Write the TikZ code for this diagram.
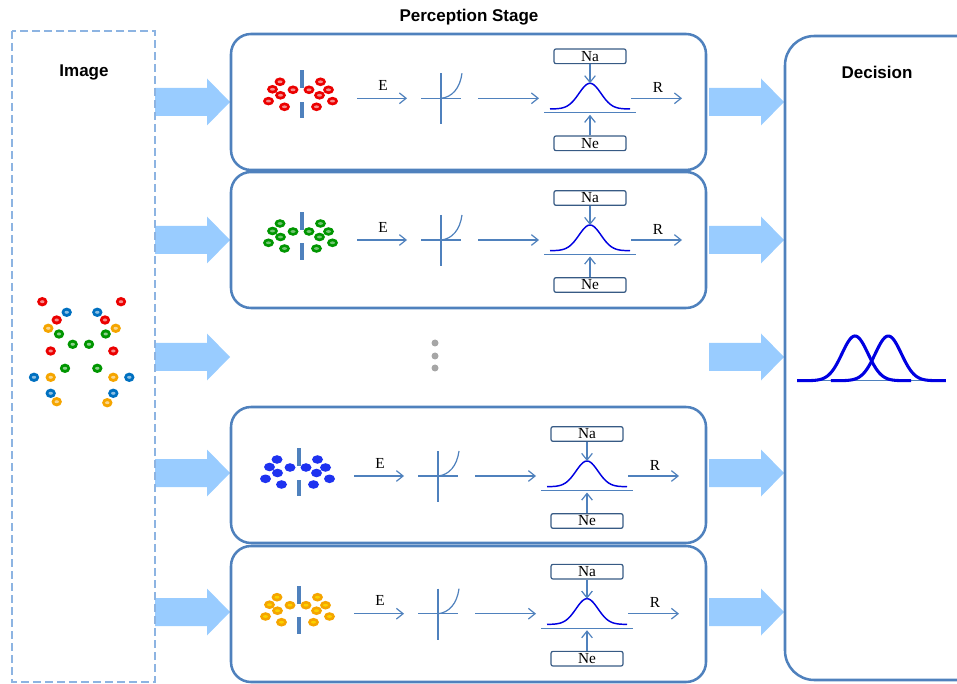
\documentclass[tikz,border=0pt]{standalone}
\usepackage{fontspec}
\setmainfont{Liberation Serif}
\setsansfont{Liberation Sans}
\usepackage{tikz}
\usetikzlibrary{arrows.meta,positioning,calc}

\definecolor{boxblue}{RGB}{79,129,189}
\definecolor{lightarrow}{RGB}{153,204,255}
\definecolor{dashblue}{RGB}{141,180,226}
\definecolor{curveblue}{RGB}{0,0,225}
\definecolor{dotred}{RGB}{235,0,0}
\definecolor{dotgreen}{RGB}{0,150,0}
\definecolor{dotblue}{RGB}{30,50,240}
\definecolor{dotorange}{RGB}{245,165,0}
\definecolor{imgblue}{RGB}{0,112,192}

\newcommand{\fatarrow}[2]{\fill[bigarrow] (#1,#2-14) -- ++(52,0) -- ++(0,-9.5) -- ++(23,23.5) -- ++(-23,23.5) -- ++(0,-9.5) -- ++(-52,0) -- cycle;}

\begin{document}
\begin{tikzpicture}[
    x=0.75pt, y=-0.75pt,
    stagebox/.style={draw=boxblue, line width=1.9pt, rounded corners=15pt},
    imagebox/.style={draw=dashblue, line width=1.5pt, dash pattern=on 6pt off 3pt},
    bigarrow/.style={fill=lightarrow},
    arrow/.style={draw=boxblue, line width=0.9pt, -{Straight Barb[length=5pt,width=8pt]}},
    thin/.style={draw=boxblue, line width=0.9pt},
    tag/.style={draw=boxblue!70!black, line width=0.9pt, rounded corners=1.5pt, minimum width=54pt, minimum height=11pt, inner sep=0pt, font=\fontsize{11.5}{12}\selectfont},
    lab/.style={font=\fontsize{11.5}{13}\selectfont, inner sep=0pt},
    title/.style={font=\sffamily\bfseries\fontsize{12.75}{14}\selectfont},
    gauss/.style={draw=curveblue, line width=1.1pt},
    bar/.style={fill=boxblue}
]
    \useasboundingbox (0,0) rectangle (957,684);
    \clip (0,0) rectangle (957,684);

    % Titles
    \node[title] (stagetitle) at (469,17) {Perception Stage};
    \node[title] (imagetitle) at (84,72) {Image};
    \node[title] (decisiontitle) at (877,72) {Decision};

    % Big arrows
    \foreach \ay in {102,240,357,473,612} {
        \fatarrow{155}{\ay}
        \fatarrow{709}{\ay}
    }

    % Image
    \draw[imagebox] (12,31) rectangle (155,682);
    \foreach \px/\py/\col in {42.3/301.7/dotred, 56.7/320/dotred, 50.7/351/dotred, 121/301.7/dotred, 105/320/dotred, 113.3/351/dotred,
        66.7/312.3/imgblue, 34/377.3/imgblue, 50.7/393.3/imgblue, 97.3/312.3/imgblue, 129.3/377.3/imgblue, 113.3/393.3/imgblue,
        48.3/328.3/dotorange, 50.7/377.3/dotorange, 56.7/401.7/dotorange, 115.7/328.3/dotorange, 113.3/377.3/dotorange, 107.3/402.7/dotorange,
        59/334/dotgreen, 72.7/344.3/dotgreen, 65/368.3/dotgreen, 105.7/334/dotgreen, 89/344.3/dotgreen, 97.3/368.3/dotgreen} {
        \fill[\col] (\px,\py) ellipse[x radius=5.2, y radius=4.7];
        \fill[\col!45!white] (\px,\py) ellipse[x radius=2.2, y radius=1.5];
    }

    % Perception stages
    \foreach \t in {34,172,407,546}
        \draw[stagebox] (231,\t) rectangle (706,\t+136);

    \foreach \s/\sx/\sy/\col/\hl in {1/0/98.3/dotred/dotred!45!white, 2/0/240/dotgreen/dotgreen!55!white,
        3/-3/476/dotblue/dotblue, 4/-3/613.7/dotorange/dotorange!50!yellow} {
        \begin{scope}[shift={(\sx,\sy)}]
            % neurons
            \foreach \px/\py in {280/-16.5, 272.5/-9, 293/-8.5, 309/-8.5, 320.5/-16.5, 328.5/-8.5,
                280.5/-3, 319.5/-3, 268.5/2.8, 332.5/2.8, 284.5/8.5, 316.5/8.5} {
                \fill[\col] (\px,\py) ellipse[x radius=5.5, y radius=4.3];
                \fill[\hl] (\px,\py) ellipse[x radius=2.5, y radius=1.4];
            }
            \fill[bar] (299.5,-28) rectangle (303.5,-10);
            \fill[bar] (299.5,3.5) rectangle (303.5,20);

            % encoding
            \coordinate (e0\s) at (357,0);
            \coordinate (e1\s) at (407,0);
            \draw[arrow] (e0\s) -- (e1\s);
            \node[lab] (elab\s) at (383,-13) {E};

            % nonlinearity
            \draw[thin] (421,0) -- (461,0);
            \draw[thin] (441,-25) -- (441,26);
            \draw[thin] (441,0) .. controls (452,-1) and (460,-10) .. (462,-25);
            \coordinate (m0\s) at (478,0);
            \coordinate (m1\s) at (539,0);
            \draw[arrow] (m0\s) -- (m1\s);

            % noise
            \node[tag] (na\s) at (590,-42) {Na};
            \node[tag] (ne\s) at (590,45) {Ne};
            \draw[gauss] plot[domain=-40:40, samples=60, smooth] ({590+\x}, {10.7-25.7*exp(-(\x*\x)/242)});
            \draw[thin] (544,14.4) -- (636,14.4);
            \coordinate (peak\s) at (590,-15);
            \coordinate (base\s) at (590,16.5);
            \draw[arrow] (na\s) -- (peak\s);
            \draw[arrow] (ne\s) -- (base\s);

            % response
            \coordinate (r0\s) at (631,0);
            \coordinate (r1\s) at (682,0);
            \draw[arrow] (r0\s) -- (r1\s);
            \node[lab] (rlab\s) at (658,-11) {R};
        \end{scope}
    }

    % Dots
    \foreach \py in {343,356,368}
        \fill[gray!70] (435,\py) circle[radius=3.5];

    % Decision
    \draw[stagebox, rounded corners=22pt] (785,36) rectangle (990,680);
    \draw[boxblue, line width=0.8pt] (797,380.7) -- (946,380.7);
    \draw[gauss, line width=2.3pt] plot[domain=-58:56, samples=80, smooth] ({855+\x}, {380.7-44.7*exp(-(\x*\x)/338)});
    \draw[gauss, line width=2.3pt] plot[domain=-57.5:57.5, samples=80, smooth] ({888.3+\x}, {380.7-44.7*exp(-(\x*\x)/338)});
\end{tikzpicture}
\end{document}
